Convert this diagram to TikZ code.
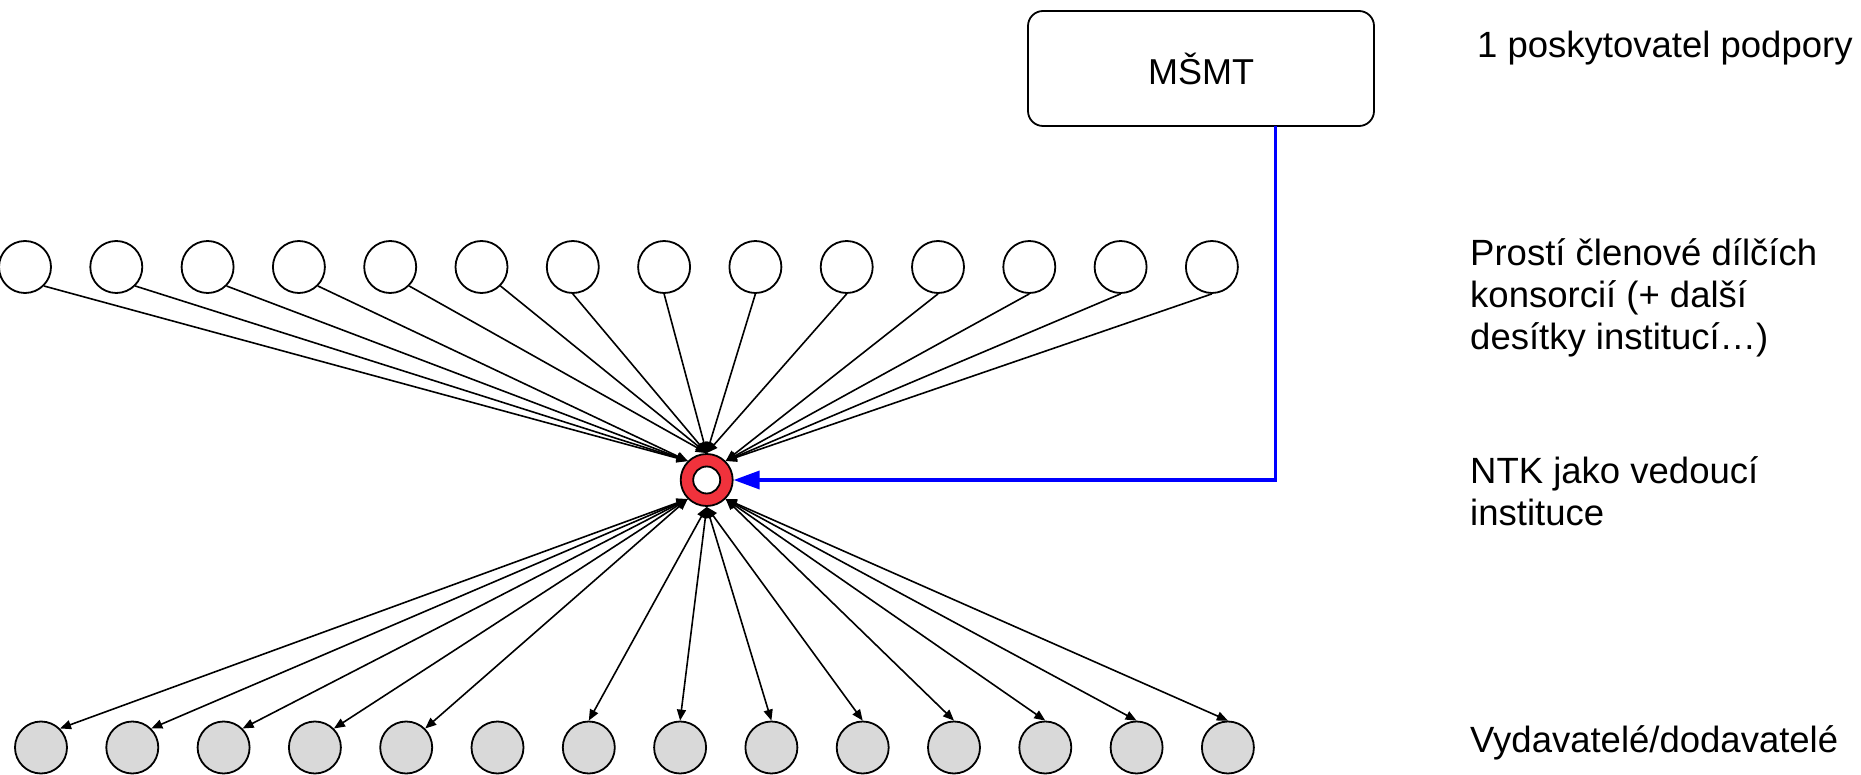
\documentclass[tikz,border=0pt]{standalone}
\usepackage{fontspec}
\setmainfont{Liberation Sans}
\usetikzlibrary{arrows.meta}
\definecolor{ntkred}{RGB}{240,50,60}
\definecolor{pubgray}{RGB}{217,217,217}
\tikzset{
  member/.style={circle,draw,line width=1.8pt,minimum size=52pt,inner sep=0pt,fill=white},
  publisher/.style={member,fill=pubgray},
  feed/.style={line width=1.6pt,-{Triangle[length=11pt,width=9pt]}},
  deal/.style={line width=1.6pt,{Triangle[length=11pt,width=9pt]}-{Triangle[length=11pt,width=9pt]}},
  label/.style={anchor=base west,align=left,inner sep=0pt,font=\fontsize{36.5}{42}\selectfont}
}
\begin{document}
\begin{tikzpicture}[x=1pt,y=-1pt]
                \useasboundingbox (0,0) rectangle (1861,775);
                % grant provider
                \node[draw,line width=1.8pt,rounded corners=15pt,minimum width=346pt,minimum height=115pt,
                      font=\fontsize{36}{41}\selectfont] (msmt) at (1201,68.5) {MŠMT};
                % lead institution
                \node[circle,draw,line width=1.8pt,fill=ntkred,minimum size=52pt,inner sep=0pt] (ntk) at (706.7,480) {};
                \node[circle,draw,line width=1.8pt,fill=white,minimum size=27pt,inner sep=0pt] (ntkin) at (ntk) {};
                % members and publishers
                \foreach \i in {0,...,13} {
                    \node[member] (t\i) at (25+91.3*\i,267) {};
                    \node[publisher] (b\i) at (41+91.3*\i,747.5) {};
                }
                \foreach \i in {0,...,3} \draw[feed] (t\i.south east) -- (ntk.north west);
                \foreach \i in {4,5} \draw[feed] (t\i.south east) -- (ntk.north);
                \foreach \i in {6,...,9} \draw[feed] (t\i.south) -- (ntk.north);
                \foreach \i in {10,...,13} \draw[feed] (t\i.south) -- (ntk.north east);
                \foreach \i in {0,...,4} \draw[deal] (ntk.south west) -- (b\i.north east);
                \foreach \i in {6,...,9} \draw[deal] (ntk.south) -- (b\i.north);
                \foreach \i in {10,...,13} \draw[deal] (ntk.south east) -- (b\i.north);
                % funding
                \coordinate (tap) at (1275.7,126);
                \draw[blue,line width=3.5pt,-{Triangle[length=26pt,width=18pt]}] (tap) |- (ntk.east);
                % levels (base = last line)
                \node[label] (lvl1) at (1477,57.5) {1 poskytovatel podpory};
                \node[label] (lvl2) at (1470,350) {Prostí členové dílčích\\konsorcií (+ další\\desítky institucí…)};
                \node[label] (lvl3) at (1470,525) {NTK jako vedoucí\\instituce};
                \node[label] (lvl4) at (1470,752.5) {Vydavatelé/dodavatelé};
\end{tikzpicture}
\end{document}
